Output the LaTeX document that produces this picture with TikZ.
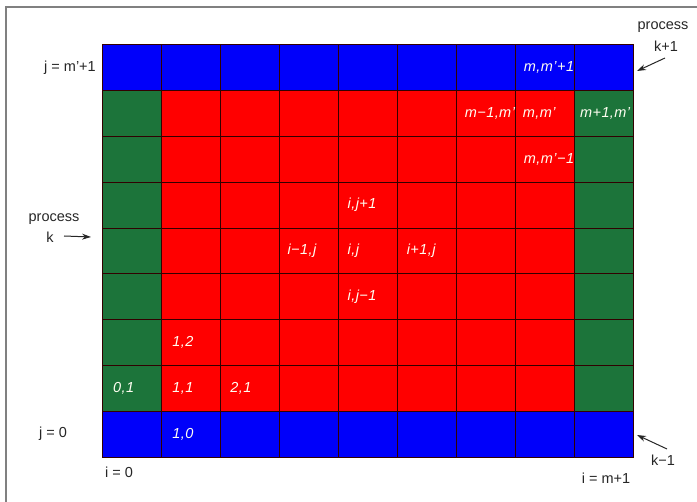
\documentclass[tikz,border=0pt]{standalone}
\usepackage{fontspec}
\setmainfont{Liberation Sans}
\usetikzlibrary{arrows.meta}
\definecolor{gblue}{RGB}{0,0,250}
\definecolor{gred}{RGB}{255,0,0}
\definecolor{ggreen}{RGB}{28,116,58}
\begin{document}
\begin{tikzpicture}[x=1pt,y=-1pt,
  cell/.style={draw=black!80!red, line width=1pt, minimum width=59.11pt, minimum height=45.78pt, inner sep=0pt, outer sep=0pt, anchor=north west},
  clabel/.style={anchor=west, text=white!95!yellow, font=\fontsize{14.5}{14.5}\selectfont\itshape\addfontfeatures{LetterSpace=3}, inner sep=0pt},
  olabel/.style={font=\fontsize{14.5}{14.5}\selectfont, text=black!85, inner sep=0pt},
  parrow/.style={-{Stealth[length=9pt,width=6pt]}, line width=1pt, black!85}]
\useasboundingbox (0,0) rectangle (697,502);
\draw[gray, line width=1.5pt] (6,502) -- (6,7) -- (697,7);
% grid cells
\foreach \c in {0,...,8}{
  \foreach \r in {0,...,8}{
    \pgfmathsetmacro\xx{102+\c*59.11}
    \pgfmathsetmacro\yy{45+(8-\r)*45.78}
    \ifnum\r=0 \def\col{gblue}\else\ifnum\r=8 \def\col{gblue}\else
      \ifnum\c=0 \def\col{ggreen}\else\ifnum\c=8 \def\col{ggreen}\else\def\col{gred}\fi\fi\fi\fi
    \node[cell, fill=\col] (c\c-\r) at (\xx,\yy) {};
  }
}
% cell labels
\node[clabel] (lA) at ([xshift=8pt]c7-8.west) {m,m'+1};
\node[clabel] (lB) at ([xshift=8pt]c6-7.west) {m−1,m'};
\node[clabel] (lC) at ([xshift=7pt]c7-7.west) {m,m'};
\node[clabel] (lD) at ([xshift=5pt]c8-7.west) {m+1,m'};
\node[clabel] (lE) at ([xshift=8pt]c7-6.west) {m,m'−1};
\node[clabel] (lF) at ([xshift=9pt]c4-5.west) {i,j+1};
\node[clabel] (lG) at ([xshift=8pt]c3-4.west) {i−1,j};
\node[clabel] (lH) at ([xshift=9pt]c4-4.west) {i,j};
\node[clabel] (lI) at ([xshift=9pt]c5-4.west) {i+1,j};
\node[clabel] (lJ) at ([xshift=9pt]c4-3.west) {i,j−1};
\node[clabel] (lK) at ([xshift=11pt]c1-2.west) {1,2};
\node[clabel] (lL) at ([xshift=11pt]c0-1.west) {0,1};
\node[clabel] (lM) at ([xshift=11pt]c1-1.west) {1,1};
\node[clabel] (lN) at ([xshift=10pt]c2-1.west) {2,1};
\node[clabel] (lO) at ([xshift=11pt]c1-0.west) {1,0};
% outside labels
\node[olabel] (jtop) at (70,68) {j = m'+1};
\node[olabel] (jbot) at (53,434) {j = 0};
\node[olabel] (ileft) at (119,472) {i = 0};
\node[olabel] (iright) at (606,478) {i = m+1};
\node[olabel] (pk1) at (54,219) {process};
\node[olabel] (pk2) at (50,237) {k};
\node[olabel] (pu1) at (663,27) {process};
\node[olabel] (pu2) at (666,46) {k+1};
\node[olabel] (pd) at (663,460) {k−1};
% arrows
\coordinate (akS) at (64,236);
\coordinate (akE) at (91,237);
\coordinate (auS) at (665,58);
\coordinate (auE) at (637,71);
\coordinate (adS) at (667,449);
\coordinate (adE) at (637,435);
\draw[parrow] (akS) -- (akE);
\draw[parrow] (auS) -- (auE);
\draw[parrow] (adS) -- (adE);
\end{tikzpicture}
\end{document}
